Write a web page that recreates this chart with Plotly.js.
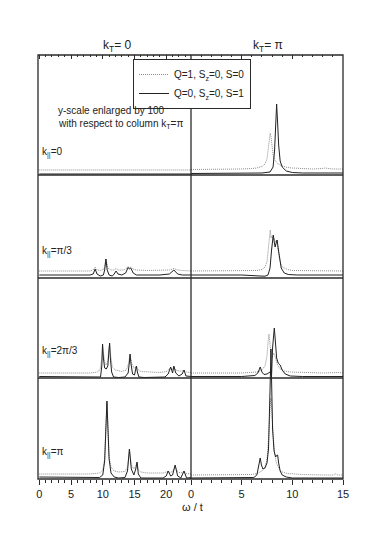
<!DOCTYPE html>
<html>
<head>
<meta charset="utf-8">
<script src="https://cdn.plot.ly/plotly-3.0.1.min.js"></script>
<style>
    body { margin: 0; background: #fff; }
    #graph { width: 382px; height: 549px; }
</style>
</head>
<body>
<div id="graph"></div>
<script>
// spectra, intensity in arbitrary units (one unit ~ one pixel of the original)

// k|| = 0
const w0LeftDot = [0, 24];
const i0LeftDot = [5, 5];
const w0LeftSolid = [0, 24];
const i0LeftSolid = [1, 1];
const w0RightDot = [0, 3, 5, 6, 6.5, 7, 7.3, 7.5, 7.65, 7.75, 7.82, 7.9, 8.0, 8.1, 8.25, 8.4, 8.6, 9, 9.5, 10, 11, 12, 13, 13.2, 14, 15];
const i0RightDot = [5.5, 5.5, 6, 6.5, 7, 8.5, 11, 16, 26, 36, 42, 38, 28, 20, 15, 13, 11, 9, 7.5, 7, 6.5, 6, 6.5, 7, 6, 6];
const w0RightSolid = [0, 5, 7, 7.8, 8.1, 8.25, 8.35, 8.45, 8.55, 8.65, 8.8, 9, 9.4, 10, 11, 15];
const i0RightSolid = [1.5, 1.5, 2, 3, 8, 25, 50, 71, 52, 30, 14, 8, 4, 2.5, 2, 2];

// k|| = pi/3
const w1LeftDot = [0, 8, 8.5, 8.8, 9.1, 9.6, 10.2, 10.5, 10.8, 11.3, 11.8, 12.1, 12.5, 13.3, 13.8, 14.0, 14.2, 14.4, 14.7, 15.3, 17, 19, 20.5, 21.2, 21.8, 22.5, 24];
const i1LeftDot = [7, 7, 8, 11, 8, 7.5, 9, 19, 10, 8, 8, 9.5, 8, 8, 10, 11.5, 10, 11, 9, 8, 7.5, 7.5, 8, 9.5, 8, 7.5, 7];
const w1LeftSolid = [0, 8, 8.5, 8.8, 9.1, 9.6, 10.1, 10.3, 10.5, 10.7, 11, 11.5, 11.8, 12.1, 12.4, 13, 13.6, 14.0, 14.2, 14.4, 14.8, 15.3, 17, 19, 20.5, 21.2, 21.8, 22.5, 24];
const i1LeftSolid = [3, 3, 4, 9, 4, 2, 3, 8, 19, 8, 3, 2, 4, 7, 4, 3, 5, 10.5, 9, 10, 5, 3, 3, 3, 4, 8, 4, 3, 3];
const w1RightDot = [0, 5, 6.5, 7, 7.3, 7.5, 7.65, 7.75, 7.82, 7.9, 8.0, 8.1, 8.2, 8.3, 8.45, 8.6, 8.8, 9.0, 9.5, 10, 12, 15];
const i1RightDot = [7, 7, 7.5, 8.5, 11, 16, 30, 42, 48, 40, 42, 38, 40, 36, 38, 28, 16, 11, 8.5, 7.5, 7, 7];
const w1RightSolid = [0, 5, 6.8, 7.3, 7.6, 7.8, 7.95, 8.05, 8.12, 8.2, 8.3, 8.4, 8.5, 8.6, 8.75, 8.9, 9.2, 9.6, 10.5, 15];
const i1RightSolid = [3, 3, 2, 1.8, 3, 10, 28, 40, 43, 37, 31, 35, 38, 30, 18, 10, 5, 3.5, 3, 3];

// k|| = 2pi/3
const w2LeftDot = [0, 8, 9.2, 9.6, 9.85, 9.97, 10.1, 10.35, 10.55, 10.8, 10.95, 11.08, 11.2, 11.5, 12, 13, 13.7, 14.0, 14.3, 14.6, 14.9, 15.1, 15.3, 15.6, 16, 17, 19, 20, 20.4, 20.7, 21, 21.2, 21.5, 22, 22.5, 22.8, 23.1, 24];
const i2LeftDot = [5, 5, 6, 9, 20, 33, 25, 15, 13, 17, 29, 34, 25, 11, 8, 6.5, 8, 13, 23, 14, 10, 10, 11.5, 8, 6.5, 6, 5.5, 6.5, 8.5, 10, 8, 11, 8, 7, 7, 7.5, 6, 5.5];
const w2LeftSolid = [0, 8, 9.3, 9.65, 9.85, 9.97, 10.1, 10.3, 10.55, 10.8, 10.95, 11.08, 11.2, 11.4, 11.7, 12.5, 13.5, 14.0, 14.2, 14.3, 14.45, 14.7, 15.0, 15.2, 15.3, 15.45, 15.7, 16.5, 18, 19.8, 20.3, 20.7, 21.0, 21.2, 21.5, 22.0, 22.5, 22.8, 23.1, 24];
const i2LeftSolid = [1.5, 1.5, 1, 1, 12, 34, 20, 10, 9, 12, 25, 35, 20, 6, 1, 0.5, 1, 5, 16, 24, 14, 4, 3, 8, 12, 6, 1, 0.5, 1, 1, 4, 11, 5, 12, 5, 2, 4, 8, 2, 1.5];
const w2RightDot = [0, 5, 6.5, 7.0, 7.3, 7.5, 7.6, 7.69, 7.78, 7.9, 8.0, 8.15, 8.3, 8.5, 8.8, 9.2, 9.8, 11, 13, 14.5, 15];
const i2RightDot = [5, 5, 6, 8, 12, 22, 36, 44, 36, 22, 20, 25, 22, 14, 9, 7, 6, 5.5, 5, 5.5, 5];
const w2RightSolid = [0, 5, 6.3, 6.6, 6.83, 7.0, 7.2, 7.5, 7.8, 7.95, 8.05, 8.15, 8.22, 8.3, 8.45, 8.6, 8.8, 9.0, 9.3, 9.8, 11, 15];
const i2RightSolid = [1.5, 1.5, 2.5, 5, 11, 6, 3.5, 4, 6, 2, 30, 46, 50, 40, 20, 15, 13, 8, 4, 2, 1.5, 1.5];

// k|| = pi
const w3LeftDot = [0, 8, 9.5, 10, 10.3, 10.5, 10.66, 10.8, 11.0, 11.3, 11.8, 12.5, 13.5, 13.9, 14.2, 14.5, 14.9, 15.2, 15.4, 15.6, 16, 17, 19.5, 20.3, 20.6, 21.0, 21.4, 21.8, 22.3, 22.8, 23.2, 24];
const i3LeftDot = [5, 5, 6, 9, 20, 50, 76, 52, 22, 12, 8, 7, 7.5, 12, 29, 14, 10, 13, 16, 9, 7, 6, 6, 7.5, 6.5, 7.5, 13, 7, 6, 7.5, 5.5, 5];
const w3LeftSolid = [0, 8, 9.5, 10.0, 10.3, 10.5, 10.66, 10.8, 11.0, 11.3, 11.8, 12.5, 13.5, 13.9, 14.2, 14.5, 14.9, 15.2, 15.4, 15.6, 16, 17, 19.5, 20.0, 20.3, 20.7, 21.0, 21.4, 21.8, 22.3, 22.8, 23.2, 24];
const i3LeftSolid = [2, 2, 1.5, 4, 18, 52, 78, 54, 20, 6, 2, 1, 1.5, 8, 30, 10, 4, 10, 17, 5, 1, 1, 1, 3, 8, 3, 4, 14, 3, 1, 8, 1, 1.5];
const w3RightDot = [0, 5, 6.0, 6.5, 7.0, 7.3, 7.5, 7.65, 7.75, 7.85, 7.9, 7.95, 8.05, 8.2, 8.4, 8.7, 9.0, 9.5, 10, 11, 13, 14.1, 14.3, 14.5, 15];
const i3RightDot = [4, 4, 4.5, 5.5, 8, 12, 20, 40, 65, 78, 81, 75, 55, 30, 17, 10, 7, 5.5, 5, 4.5, 4, 4, 5.5, 4, 4];
const w3RightSolid = [0, 5, 6.2, 6.5, 6.7, 6.83, 6.95, 7.1, 7.3, 7.5, 7.65, 7.75, 7.85, 7.89, 7.95, 8.05, 8.2, 8.35, 8.5, 8.55, 8.65, 8.8, 9.0, 9.4, 10, 15];
const i3RightSolid = [1, 1, 1.5, 4, 14, 21, 14, 10, 11, 16, 30, 60, 110, 130, 100, 50, 28, 22, 24, 24, 16, 8, 4, 2, 1, 1];

const rowLabels = ['k<sub>||</sub>=0', 'k<sub>||</sub>=π/3', 'k<sub>||</sub>=2π/3', 'k<sub>||</sub>=π'];
const columnTitles = ['k<sub>T</sub>= 0', 'k<sub>T</sub>= π'];
const seriesNames = ['Q=1, S<sub>z</sub>=0, S=0', 'Q=0, S<sub>z</sub>=0, S=1'];
const leftTicks = [0, 5, 10, 15, 20];
const rightTicks = [0, 5, 10, 15];

const panels = [
    [[w0LeftDot, i0LeftDot, w0LeftSolid, i0LeftSolid], [w0RightDot, i0RightDot, w0RightSolid, i0RightSolid]],
    [[w1LeftDot, i1LeftDot, w1LeftSolid, i1LeftSolid], [w1RightDot, i1RightDot, w1RightSolid, i1RightSolid]],
    [[w2LeftDot, i2LeftDot, w2LeftSolid, i2LeftSolid], [w2RightDot, i2RightDot, w2RightSolid, i2RightSolid]],
    [[w3LeftDot, i3LeftDot, w3LeftSolid, i3LeftSolid], [w3RightDot, i3RightDot, w3RightSolid, i3RightSolid]],
];

// page geometry in pixels
const W = 382, H = 549;
const plotLeft = 38, plotRight = 343, plotTop = 55, plotBottom = 479, midX = 191;
const rowEdges = [55, 175, 278, 378, 479];
const lastRowTop = 345;   // the big k||=pi peak runs up into the row above

const plotW = plotRight - plotLeft, plotH = plotBottom - plotTop;
const px = x => (x - plotLeft) / plotW;
const py = y => (plotBottom - y) / plotH;

const dotColor = '#8c8c8c', solidColor = '#222', frameColor = '#2a2a2a';
const fontFamily = 'Liberation Sans, Arial, sans-serif';

function drawFigure() {
    const traces = [];
    const layout = {
        width: W, height: H,
        margin: {l: plotLeft, r: W - plotRight, t: plotTop, b: H - plotBottom},
        paper_bgcolor: '#fff',
        plot_bgcolor: 'rgba(0,0,0,0)',
        font: {family: fontFamily, size: 10, color: '#222'},
        showlegend: true,
        legend: {
            x: px(192), y: py(59), xanchor: 'center', yanchor: 'top',
            bgcolor: '#fff', bordercolor: frameColor, borderwidth: 1,
            font: {size: 10, color: '#222'},
            itemwidth: 30, tracegroupgap: 0,
        },
        shapes: [],
        annotations: [],
    };

    panels.forEach((row, r) => {
        row.forEach((cell, c) => {
            const n = r * 2 + c + 1;
            const suffix = n === 1 ? '' : String(n);
            const [wDot, iDot, wSolid, iSolid] = cell;
            const first = r === 0 && c === 0;

            traces.push({
                x: wDot, y: iDot, mode: 'lines', name: seriesNames[0],
                line: {color: dotColor, width: 1, dash: '1px,1px'},
                xaxis: 'x' + suffix, yaxis: 'y' + suffix,
                showlegend: first, hoverinfo: 'skip',
            });
            traces.push({
                x: wSolid, y: iSolid, mode: 'lines', name: seriesNames[1],
                line: {color: solidColor, width: 1},
                xaxis: 'x' + suffix, yaxis: 'y' + suffix,
                showlegend: first, hoverinfo: 'skip',
            });

            const top = r === 3 ? lastRowTop : rowEdges[r];
            const bottom = rowEdges[r + 1];
            const xDomain = c === 0 ? [0, px(midX)] : [px(midX), 1];

            const xaxis = {
                domain: xDomain,
                anchor: 'y' + suffix,
                range: c === 0 ? [-0.2, 23.9] : [0, 15],
                showgrid: false, zeroline: false, showline: false,
                fixedrange: true,
            };
            if (r === 3) {
                Object.assign(xaxis, {
                    tickvals: c === 0 ? leftTicks : rightTicks,
                    ticks: 'outside', ticklen: 5, tickwidth: 1, tickcolor: frameColor,
                    minor: {dtick: 1, ticks: 'outside', ticklen: 3, tickcolor: frameColor},
                    tickfont: {size: 11, color: '#222'},
                });
            } else if (r === 0) {
                Object.assign(xaxis, {
                    side: 'top', showticklabels: false,
                    tickvals: c === 0 ? leftTicks : rightTicks,
                    ticks: 'inside', ticklen: 4, tickcolor: frameColor,
                    minor: {dtick: 1, ticks: 'inside', ticklen: 2, tickcolor: frameColor},
                });
            } else {
                xaxis.visible = false;
            }
            layout['xaxis' + suffix] = xaxis;
            layout['yaxis' + suffix] = {
                domain: [py(bottom), py(top)],
                anchor: 'x' + suffix,
                range: [0, bottom - top],
                visible: false,
                fixedrange: true,
            };
        });
    });

    // frame of the figure
    const line = {color: frameColor, width: 1.3};
    layout.shapes.push({type: 'rect', xref: 'paper', yref: 'paper', x0: 0, x1: 1, y0: 0, y1: 1, line});
    layout.shapes.push({type: 'line', xref: 'paper', yref: 'paper', x0: px(midX), x1: px(midX), y0: 0, y1: 1, line});
    rowEdges.slice(1, 4).forEach(y => {
        layout.shapes.push({type: 'line', xref: 'paper', yref: 'paper', x0: 0, x1: 1, y0: py(y), y1: py(y), line});
    });

    const note = (text, x, y, size, xanchor) => ({
        text, x: px(x), y: py(y), xref: 'paper', yref: 'paper',
        xanchor: xanchor || 'center', yanchor: 'middle', showarrow: false,
        font: {size: size, color: '#222'},
    });
    layout.annotations.push(note(columnTitles[0], 117, 46, 12));
    layout.annotations.push(note(columnTitles[1], 268, 46, 12));
    layout.annotations.push(note('y-scale enlarged by 100', 56, 111, 10, 'left'));
    layout.annotations.push(note('with respect to column k<sub>T</sub>=π', 56, 124, 10, 'left'));
    const labelY = [152, 251, 351, 452];
    rowLabels.forEach((t, i) => layout.annotations.push(note(t, 40, labelY[i], 10, 'left')));
    layout.annotations.push(note('ω / t', 192, 507, 11));

    Plotly.newPlot('graph', traces, layout, {displayModeBar: false, staticPlot: true});
}

drawFigure();
</script>
</body>
</html>
